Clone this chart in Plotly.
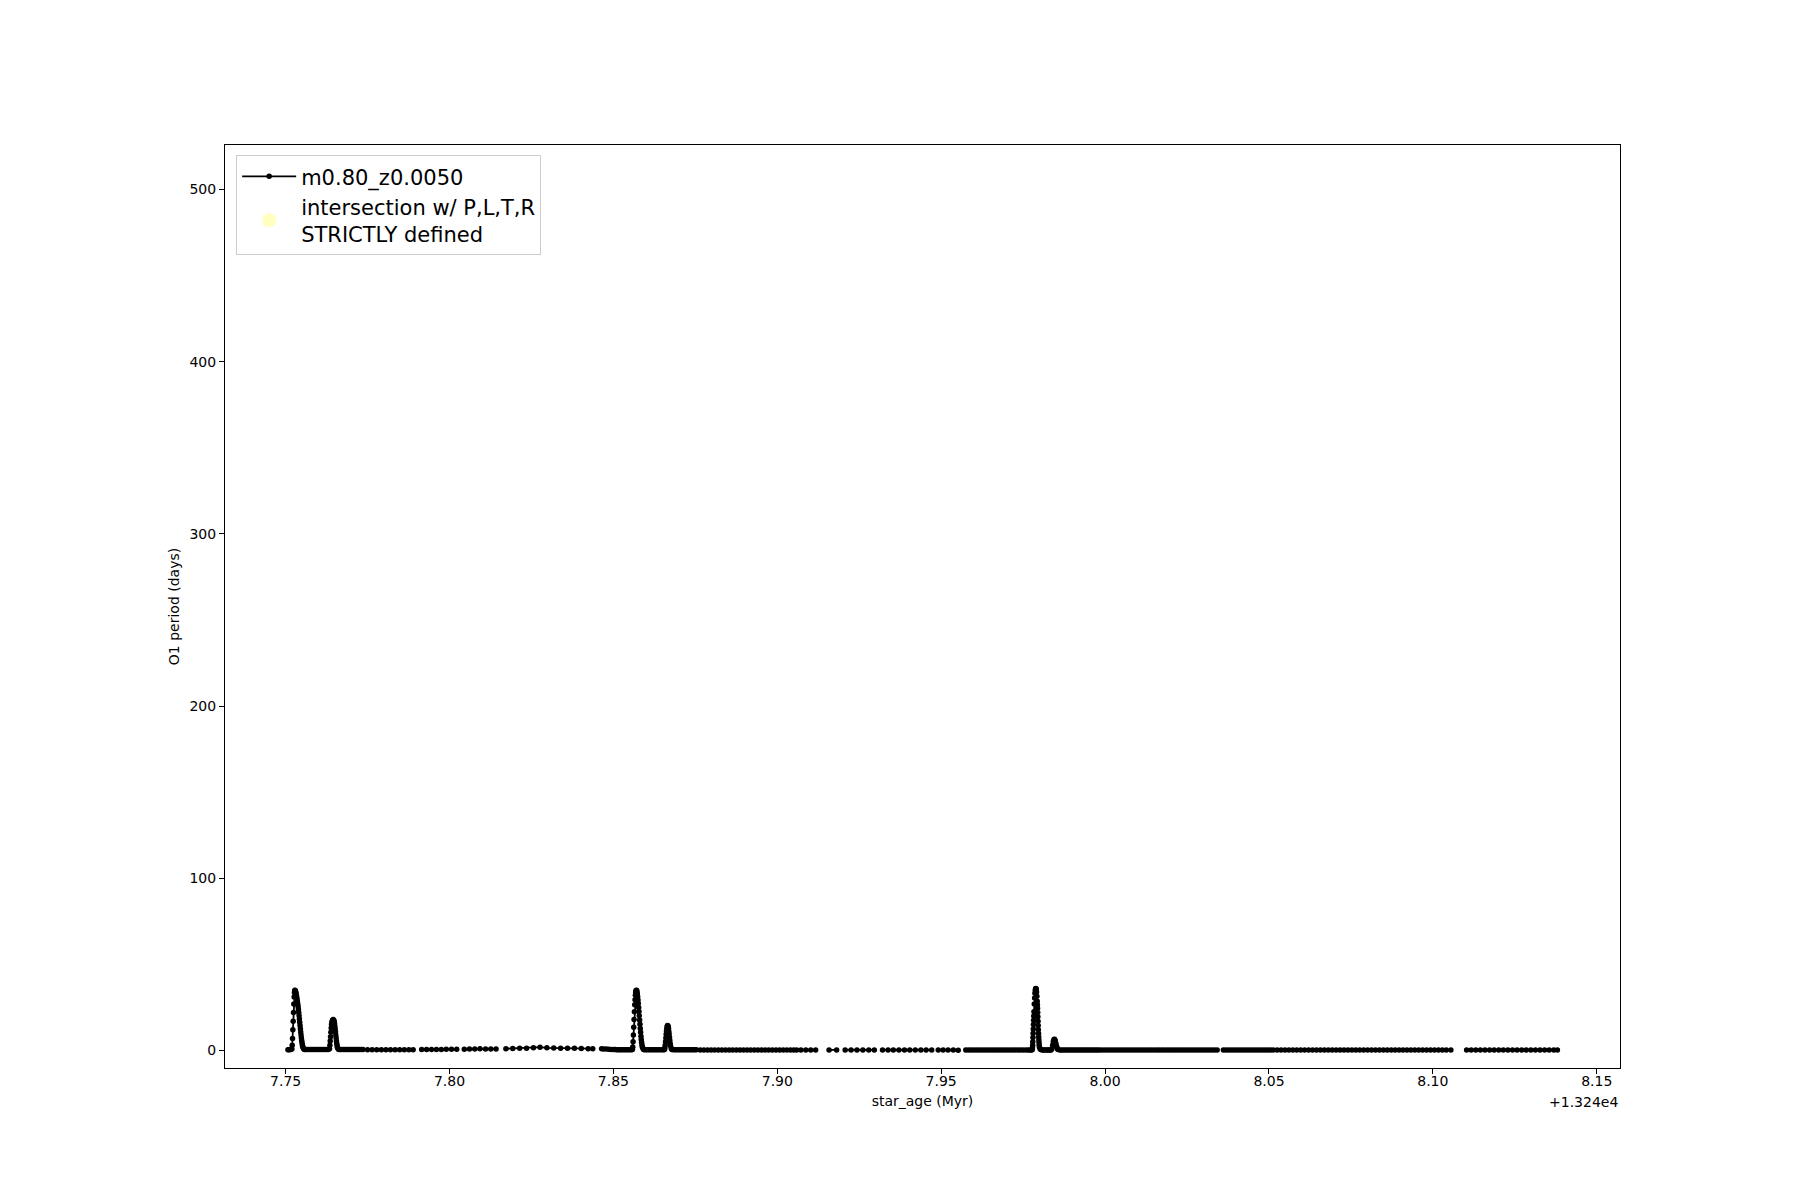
import plotly.graph_objects as go

AGE_OFFSET_LABEL = "+1.324e4"
X_TICKS = [7.75, 7.80, 7.85, 7.90, 7.95, 8.00, 8.05, 8.10, 8.15]
X_TICK_TEXT = ["7.75", "7.80", "7.85", "7.90", "7.95", "8.00", "8.05", "8.10", "8.15"]
Y_TICKS = [0, 100, 200, 300, 400, 500]

# star_age - 13240 (Myr), O1 period (days); segments separated by undefined periods
seg1_age = [7.7507, 7.7510, 7.7513, 7.7516,
            7.7519, 7.7520, 7.7521, 7.7522, 7.7523, 7.7524, 7.7525, 7.7526, 7.7527, 7.7528,
            7.7529, 7.7530, 7.7531, 7.7532, 7.7533, 7.7534, 7.7535, 7.7536, 7.7537, 7.7538,
            7.7539, 7.7540, 7.7541, 7.7542, 7.7543, 7.7544, 7.7545, 7.7546, 7.7547, 7.7548,
            7.7549, 7.7550, 7.7551, 7.7552, 7.7553, 7.7555, 7.7557,
            7.7560, 7.7565, 7.7570, 7.7575, 7.7580, 7.7585, 7.7590, 7.7595, 7.7600,
            7.7605, 7.7610, 7.7615, 7.7620, 7.7625, 7.7630,
            7.7634, 7.7635, 7.7636, 7.7637, 7.7638, 7.7639, 7.7640, 7.7641, 7.7643, 7.7645,
            7.7647, 7.7648, 7.7649, 7.7650, 7.7651, 7.7652, 7.7653, 7.7654, 7.7655, 7.7656,
            7.7657, 7.7658, 7.7660, 7.7662,
            7.7666, 7.7671, 7.7676, 7.7681, 7.7686, 7.7691, 7.7696, 7.7701, 7.7706, 7.7711,
            7.7716, 7.7721, 7.7726, 7.7731, 7.7736,
            7.7750, 7.7764, 7.7778, 7.7792, 7.7806, 7.7820, 7.7834, 7.7848, 7.7862, 7.7876, 7.7889]
seg1_period = [0.4, 0.4, 0.5, 0.5,
               0.8, 3.0, 7.0, 12.0, 17.0, 22.0, 27.0, 31.0, 33.5, 35.0,
               34.8, 34.3, 33.6, 32.8, 31.8, 30.7, 29.5, 28.2, 26.8, 25.3,
               23.7, 22.0, 20.2, 18.3, 16.4, 14.5, 12.6, 10.7, 8.9, 7.2,
               5.7, 4.4, 3.3, 2.4, 1.7, 1.0, 0.6,
               0.5, 0.5, 0.5, 0.5, 0.5, 0.5, 0.5, 0.5, 0.5,
               0.5, 0.5, 0.5, 0.5, 0.5, 0.5,
               1.0, 3.0, 5.5, 8.0, 10.5, 13.0, 15.0, 16.5, 17.6, 18.0,
               17.6, 16.8, 15.6, 14.2, 12.6, 10.8, 9.0, 7.2, 5.5, 4.0,
               2.7, 1.7, 1.0, 0.6,
               0.5, 0.5, 0.5, 0.5, 0.5, 0.5, 0.5, 0.5, 0.5, 0.5,
               0.5, 0.5, 0.5, 0.5, 0.5,
               0.4, 0.4, 0.4, 0.4, 0.4, 0.4, 0.4, 0.4, 0.4, 0.4, 0.4]

seg2_age = [7.7915, 7.7930, 7.7945, 7.7960, 7.7975, 7.7990, 7.8006, 7.8022]
seg2_period = [0.5, 0.5, 0.6, 0.6, 0.6, 0.7, 0.7, 0.7]

seg3_age = [7.8045, 7.8061, 7.8077, 7.8093, 7.8110, 7.8126, 7.8142]
seg3_period = [0.7, 0.8, 0.8, 1.0, 0.9, 0.9, 0.9]

seg4_age = [7.8172, 7.8193, 7.8214, 7.8235, 7.8256, 7.8276, 7.8297, 7.8318, 7.8339,
            7.8360, 7.8381, 7.8402, 7.8423, 7.8437]
seg4_period = [1.0, 1.1, 1.2, 1.3, 1.5, 1.9, 1.5, 1.4, 1.3, 1.3, 1.2, 1.1, 1.0, 1.0]

seg5_age = [7.8464, 7.8470, 7.8478, 7.8486, 7.8493, 7.8500, 7.8505, 7.8510, 7.8515, 7.8520,
            7.8525, 7.8530, 7.8535, 7.8540, 7.8545, 7.8550, 7.8555,
            7.8558, 7.8559, 7.8560, 7.8561, 7.8562, 7.8563, 7.8564, 7.8565, 7.8566, 7.8567,
            7.8568, 7.8569, 7.8570, 7.8571, 7.8572, 7.8573, 7.8574, 7.8575, 7.8576, 7.8577,
            7.8578, 7.8579, 7.8580, 7.8581, 7.8582, 7.8583, 7.8584, 7.8585, 7.8586, 7.8587,
            7.8588, 7.8590, 7.8592,
            7.8595, 7.8600, 7.8605, 7.8610, 7.8615, 7.8620, 7.8625, 7.8630, 7.8635, 7.8640,
            7.8645, 7.8650, 7.8654,
            7.8656, 7.8657, 7.8658, 7.8659, 7.8660, 7.8661, 7.8662, 7.8663, 7.8664, 7.8665,
            7.8666, 7.8667, 7.8668, 7.8669, 7.8670, 7.8671, 7.8672, 7.8673, 7.8674, 7.8676,
            7.8678,
            7.8683, 7.8688, 7.8693, 7.8698, 7.8703, 7.8708, 7.8713, 7.8718, 7.8723, 7.8728,
            7.8733, 7.8738, 7.8743, 7.8748, 7.8753,
            7.8765, 7.8776, 7.8787, 7.8798, 7.8809, 7.8820, 7.8831, 7.8842, 7.8853, 7.8864,
            7.8875, 7.8886, 7.8897, 7.8908, 7.8919, 7.8930, 7.8941, 7.8952, 7.8963, 7.8974,
            7.8985, 7.8996, 7.9007, 7.9018, 7.9029, 7.9040, 7.9050, 7.9059]
seg5_period = [1.0, 0.9, 0.8, 0.7, 0.6, 0.5, 0.5, 0.4, 0.4, 0.4,
               0.4, 0.4, 0.4, 0.4, 0.4, 0.4, 0.4,
               0.6, 2.0, 5.0, 9.0, 13.5, 18.0, 22.5, 26.5, 29.5, 32.0,
               33.6, 34.6, 35.0, 34.8, 34.0, 32.8, 31.2, 29.3, 27.2, 25.0,
               22.6, 20.2, 17.7, 15.2, 12.8, 10.5, 8.3, 6.4, 4.7, 3.3,
               2.2, 1.2, 0.6,
               0.4, 0.4, 0.4, 0.4, 0.4, 0.4, 0.4, 0.4, 0.4, 0.4,
               0.4, 0.4, 0.4,
               0.6, 1.5, 3.0, 5.0, 7.2, 9.4, 11.3, 12.8, 13.9, 14.5,
               14.4, 13.8, 12.7, 11.2, 9.5, 7.7, 5.9, 4.2, 2.8, 1.4,
               0.6,
               0.4, 0.4, 0.4, 0.4, 0.4, 0.4, 0.4, 0.4, 0.4, 0.4,
               0.4, 0.4, 0.4, 0.4, 0.4,
               0.3, 0.3, 0.3, 0.3, 0.3, 0.3, 0.3, 0.3, 0.3, 0.3,
               0.3, 0.3, 0.3, 0.3, 0.3, 0.3, 0.3, 0.3, 0.3, 0.3,
               0.3, 0.3, 0.3, 0.3, 0.3, 0.3, 0.3, 0.3]

seg6_age = [7.9072, 7.9087, 7.9102, 7.9117]
seg6_period = [0.3, 0.3, 0.3, 0.3]

seg7_age = [7.9158, 7.9181]
seg7_period = [0.3, 0.3]

seg8_age = [7.9207, 7.9225, 7.9243, 7.9261, 7.9279, 7.9296]
seg8_period = [0.3, 0.3, 0.3, 0.3, 0.3, 0.3]

seg9_age = [7.9321, 7.9338, 7.9354, 7.9371, 7.9388, 7.9404, 7.9421, 7.9438, 7.9454, 7.9471]
seg9_period = [0.3, 0.3, 0.3, 0.3, 0.3, 0.3, 0.3, 0.3, 0.3, 0.3]

seg10_age = [7.9491, 7.9506, 7.9521, 7.9537, 7.9552]
seg10_period = [0.3, 0.3, 0.3, 0.2, 0.1]

seg11_age = [7.9575, 7.9583, 7.9591, 7.9599, 7.9607, 7.9615, 7.9623, 7.9631, 7.9639, 7.9647,
             7.9655, 7.9663, 7.9671, 7.9679, 7.9687, 7.9695, 7.9703, 7.9711, 7.9719, 7.9727,
             7.9735, 7.9743, 7.9751, 7.9759, 7.9766, 7.9772, 7.9776,
             7.9778, 7.97785, 7.9779, 7.97795, 7.9780, 7.97805, 7.9781, 7.97815, 7.9782, 7.97825,
             7.9783, 7.9784, 7.9785, 7.9786, 7.9787, 7.9788, 7.9789, 7.9790, 7.9791, 7.9792,
             7.9793, 7.97935, 7.9794, 7.97945, 7.9795, 7.97955, 7.9796, 7.97965, 7.9797, 7.97975,
             7.9798, 7.97985, 7.9799, 7.9800, 7.9802, 7.9804,
             7.9808, 7.9812, 7.9816, 7.9820, 7.9824, 7.9828, 7.9832, 7.9835,
             7.9838, 7.9840, 7.9842, 7.9844, 7.9846, 7.9848, 7.9850, 7.9852, 7.9854, 7.9856,
             7.9862, 7.9868, 7.9874, 7.9880, 7.9886, 7.9892, 7.9898, 7.9904, 7.9910, 7.9916,
             7.9922, 7.9928, 7.9934, 7.9940, 7.9946, 7.9952, 7.9958, 7.9964, 7.9970, 7.9976,
             7.9982,
             7.9990, 7.9998, 8.0006, 8.0014, 8.0022, 8.0030, 8.0038, 8.0046, 8.0054, 8.0062,
             8.0070, 8.0078, 8.0086, 8.0094, 8.0102, 8.0110, 8.0118, 8.0126, 8.0134, 8.0142,
             8.0150, 8.0158, 8.0166, 8.0174, 8.0182, 8.0190, 8.0198, 8.0206, 8.0214, 8.0222,
             8.0230, 8.0238, 8.0246, 8.0254, 8.0262, 8.0270, 8.0278, 8.0286, 8.0294, 8.0302,
             8.0310, 8.0318, 8.0326, 8.0334, 8.0342]
seg11_period = [0.3, 0.3, 0.3, 0.3, 0.3, 0.3, 0.3, 0.3, 0.3, 0.3,
                0.3, 0.3, 0.3, 0.3, 0.3, 0.3, 0.3, 0.3, 0.3, 0.3,
                0.3, 0.3, 0.3, 0.3, 0.3, 0.3, 0.3,
                0.6, 1.5, 3.0, 5.0, 7.5, 10.0, 12.5, 15.0, 17.5, 20.0,
                22.5, 27.0, 30.5, 33.2, 35.0, 35.8, 36.0, 35.5, 34.0, 31.5,
                28.5, 26.5, 24.5, 22.0, 19.5, 17.0, 14.5, 12.0, 9.8, 7.8,
                6.0, 4.4, 3.0, 1.8, 0.9, 0.5,
                0.3, 0.3, 0.3, 0.3, 0.3, 0.3, 0.3, 0.3,
                1.0, 3.0, 5.0, 6.3, 6.5, 5.6, 4.1, 2.5, 1.2, 0.5,
                0.2, 0.2, 0.2, 0.2, 0.2, 0.2, 0.2, 0.2, 0.2, 0.2,
                0.2, 0.2, 0.2, 0.2, 0.2, 0.2, 0.2, 0.2, 0.2, 0.2,
                0.2,
                0.2, 0.2, 0.2, 0.2, 0.2, 0.2, 0.2, 0.2, 0.2, 0.2,
                0.2, 0.2, 0.2, 0.2, 0.2, 0.2, 0.2, 0.2, 0.2, 0.2,
                0.2, 0.2, 0.2, 0.2, 0.2, 0.2, 0.2, 0.2, 0.2, 0.2,
                0.2, 0.2, 0.2, 0.2, 0.2, 0.2, 0.2, 0.2, 0.2, 0.2,
                0.2, 0.2, 0.2, 0.2, 0.2]

seg12_age = [8.0361, 8.0369, 8.0377, 8.0385, 8.0393, 8.0401, 8.0409, 8.0417, 8.0425, 8.0433,
             8.0441, 8.0449, 8.0457, 8.0465, 8.0473, 8.0481, 8.0489, 8.0497, 8.0505, 8.0513,
             8.0525, 8.0537, 8.0549, 8.0561, 8.0573, 8.0585, 8.0597, 8.0609, 8.0621, 8.0633,
             8.0645, 8.0657, 8.0669, 8.0681, 8.0693, 8.0705, 8.0717, 8.0729, 8.0741, 8.0753,
             8.0765, 8.0777, 8.0789, 8.0801, 8.0813, 8.0825, 8.0837, 8.0849, 8.0861, 8.0873,
             8.0885, 8.0897, 8.0909, 8.0921, 8.0933, 8.0945, 8.0957, 8.0969, 8.0981, 8.0993,
             8.1005, 8.1017, 8.1029, 8.1041, 8.1055]
seg12_period = [0.2, 0.2, 0.2, 0.2, 0.2, 0.2, 0.2, 0.2, 0.2, 0.2,
                0.2, 0.2, 0.2, 0.2, 0.2, 0.2, 0.2, 0.2, 0.2, 0.2,
                0.2, 0.2, 0.2, 0.2, 0.2, 0.2, 0.2, 0.2, 0.2, 0.2,
                0.2, 0.2, 0.2, 0.2, 0.2, 0.2, 0.2, 0.2, 0.2, 0.2,
                0.2, 0.2, 0.2, 0.2, 0.2, 0.2, 0.2, 0.2, 0.2, 0.2,
                0.2, 0.2, 0.2, 0.2, 0.2, 0.2, 0.2, 0.2, 0.2, 0.2,
                0.2, 0.2, 0.2, 0.2, 0.2]

seg13_age = [8.1103, 8.1117, 8.1131, 8.1145, 8.1159, 8.1173, 8.1187, 8.1201, 8.1215, 8.1229,
             8.1243, 8.1257, 8.1271, 8.1285, 8.1299, 8.1313, 8.1327, 8.1341, 8.1355, 8.1369,
             8.1380]
seg13_period = [0.2, 0.2, 0.2, 0.2, 0.2, 0.2, 0.2, 0.2, 0.2, 0.2,
                0.2, 0.2, 0.2, 0.2, 0.2, 0.2, 0.2, 0.2, 0.2, 0.2,
                0.2]

# intersection with P,L,T,R strictly defined: no points in this window
intersect_age = [None]
intersect_period = [None]

segments = [
    (seg1_age, seg1_period), (seg2_age, seg2_period), (seg3_age, seg3_period),
    (seg4_age, seg4_period), (seg5_age, seg5_period), (seg6_age, seg6_period),
    (seg7_age, seg7_period), (seg8_age, seg8_period), (seg9_age, seg9_period),
    (seg10_age, seg10_period), (seg11_age, seg11_period), (seg12_age, seg12_period),
    (seg13_age, seg13_period),
]
age, period = [], []
for a, p in segments:
    if age:
        age.append(None)
        period.append(None)
    age.extend(a)
    period.extend(p)

FONT = "DejaVu Sans"

fig = go.Figure()
fig.add_trace(go.Scatter(
    x=age, y=period, mode="lines+markers", name="m0.80_z0.0050",
    line=dict(color="black", width=1.8),
    marker=dict(color="black", size=5.5),
    connectgaps=False,
))
fig.add_trace(go.Scatter(
    x=intersect_age, y=intersect_period, mode="markers",
    name="intersection w/ P,L,T,R<br>STRICTLY defined",
    marker=dict(color="rgba(255,255,0,0.25)", size=14),
))

fig.update_layout(
    width=1784, height=1184,
    margin=dict(l=217, r=172, t=137, b=124),
    paper_bgcolor="white", plot_bgcolor="white",
    font=dict(family=FONT, size=14, color="black"),
    showlegend=True,
    legend=dict(
        x=0.008, y=0.989, xanchor="left", yanchor="top",
        bgcolor="rgba(255,255,255,0.8)", bordercolor="#cccccc", borderwidth=1,
        font=dict(family=FONT, size=21, color="black"),
        itemwidth=54,
        tracegroupgap=0,
    ),
    xaxis=dict(
        range=[7.7315, 8.1571],
        tickmode="array", tickvals=X_TICKS, ticktext=X_TICK_TEXT,
        ticks="outside", ticklen=5, tickwidth=1.1, tickcolor="black",
        ticklabelstandoff=-5,
        showline=True, linecolor="black", linewidth=1.1, mirror=True,
        showgrid=False, zeroline=False,
        tickfont=dict(family=FONT, size=14),
        title=dict(text="star_age (Myr)", font=dict(family=FONT, size=14), standoff=8),
    ),
    yaxis=dict(
        range=[-10.2, 525.8],
        tickmode="array", tickvals=Y_TICKS,
        ticks="outside", ticklen=5, tickwidth=1.1, tickcolor="black",
        showline=True, linecolor="black", linewidth=1.1, mirror=True,
        showgrid=False, zeroline=False,
        tickfont=dict(family=FONT, size=14),
        title=dict(text="O1 period (days)", font=dict(family=FONT, size=14), standoff=6),
    ),
    annotations=[dict(
        text=AGE_OFFSET_LABEL, xref="paper", yref="paper", x=1.0, y=-0.0365,
        xanchor="right", yanchor="middle", showarrow=False,
        font=dict(family=FONT, size=14, color="black"),
    )],
)

fig.write_html("out.html")
